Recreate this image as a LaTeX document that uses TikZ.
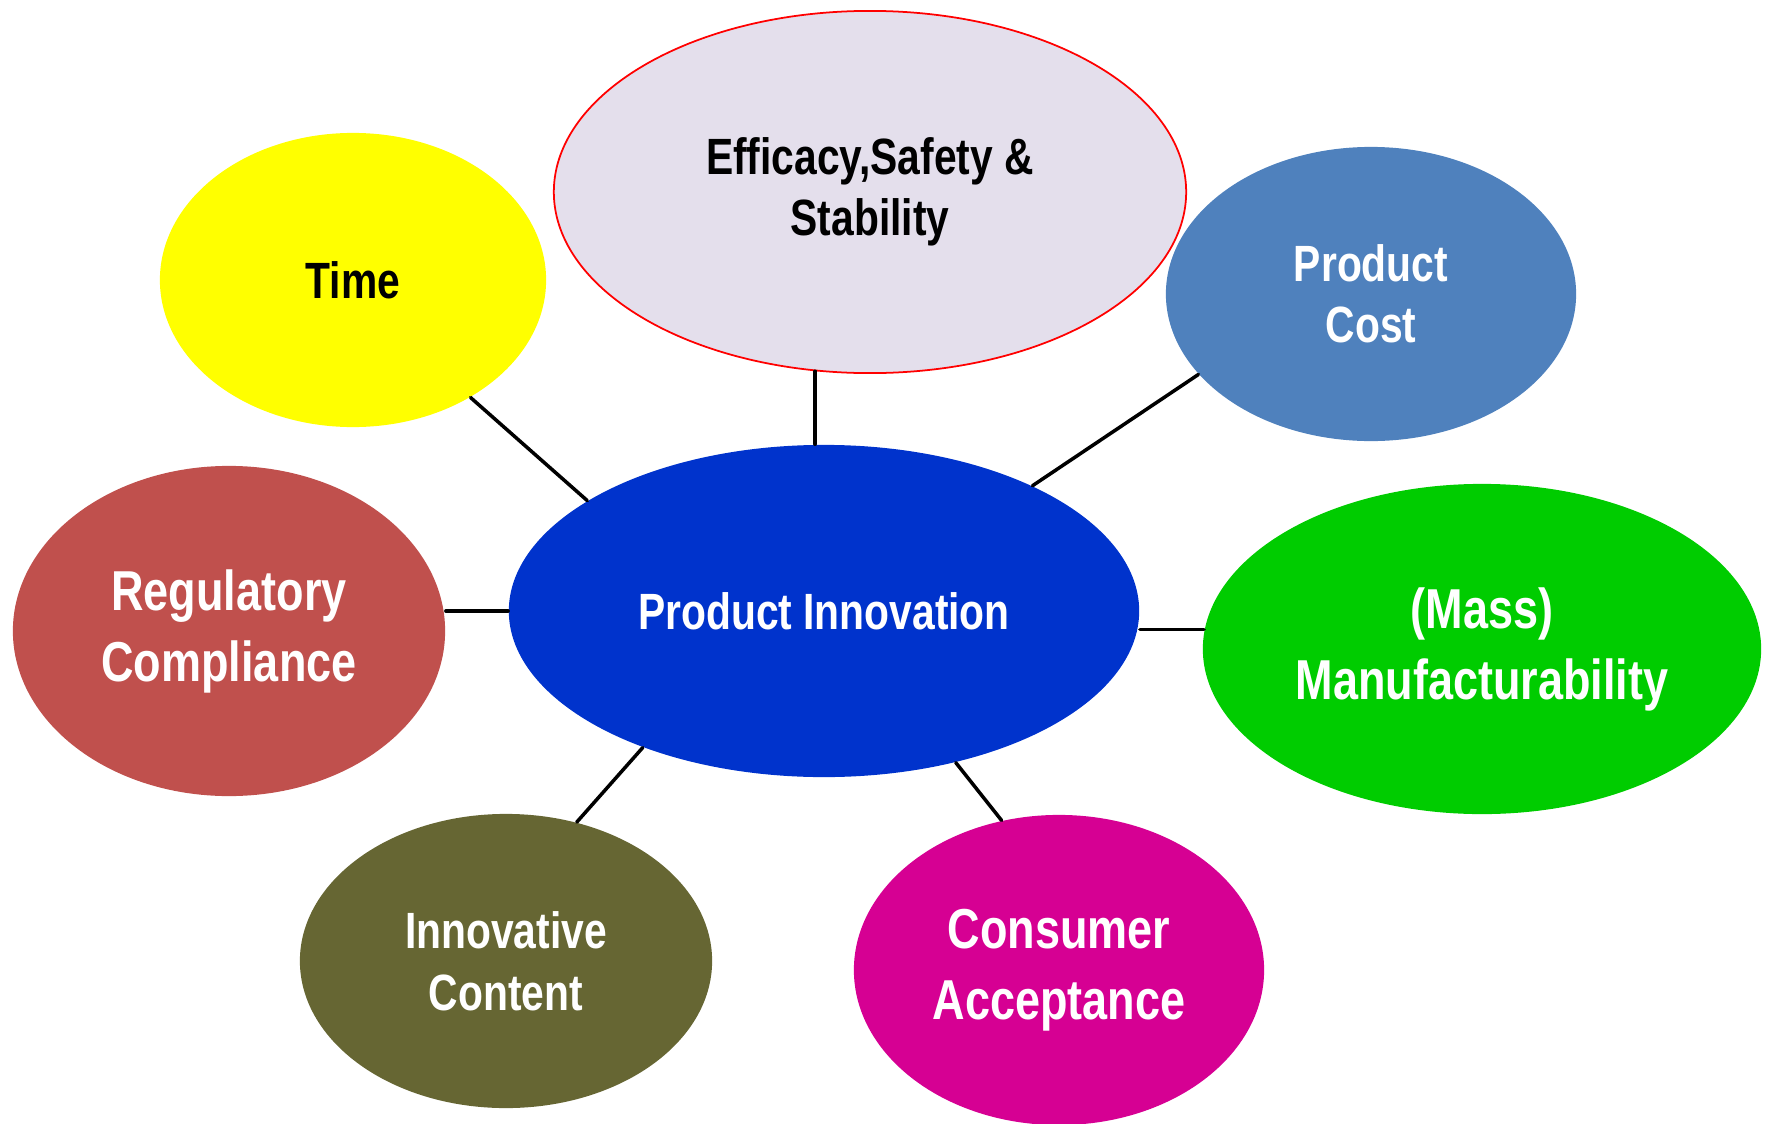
\documentclass[tikz,border=0pt]{standalone}
\usepackage{fontspec}
\newfontfamily\narrowsans[FakeStretch=0.80]{Liberation Sans}
\usetikzlibrary{shapes.geometric}

\definecolor{innoblue}{RGB}{0,51,204}
\definecolor{efflilac}{RGB}{228,223,236}
\definecolor{timeyellow}{RGB}{255,255,0}
\definecolor{costblue}{RGB}{79,129,189}
\definecolor{regred}{RGB}{192,80,77}
\definecolor{massgreen}{RGB}{0,204,0}
\definecolor{contentolive}{RGB}{102,102,51}
\definecolor{consmagenta}{RGB}{214,0,147}

\begin{document}
\begin{tikzpicture}[x=0.01cm,y=-0.01cm,line cap=round,line join=round,
  bubble/.style={ellipse,inner sep=0pt,align=center,text=white,
    font=\narrowsans\bfseries\fontsize{14.5}{17.5}\selectfont},
  bigtext/.style={font=\narrowsans\bfseries\fontsize{16}{20.2}\selectfont},
  link/.style={line width=1.pt,color=black}]
\useasboundingbox (0,0) rectangle (1772,1124);
% centre
\node[bubble,fill=innoblue,minimum width=6.30cm,minimum height=3.32cm] (main) at (824,611) {Product Innovation};
% factors round it
\node[bubble,fill=efflilac,draw=red,line width=0.5pt,text=black,minimum width=6.32cm,minimum height=3.62cm] (eff) at (870,192) {Efficacy,Safety \&\\Stability};
\node[bubble,fill=timeyellow,text=black,minimum width=3.86cm,minimum height=2.94cm] (time) at (353,280) {Time};
\node[bubble,fill=costblue,minimum width=4.10cm,minimum height=2.94cm] (cost) at (1371,294) {Product\\Cost};
\node[bubble,bigtext,fill=regred,minimum width=4.32cm,minimum height=3.30cm] (reg) at (229,631) {Regulatory\\Compliance};
\node[bubble,bigtext,fill=massgreen,minimum width=5.58cm,minimum height=3.30cm] (mass) at (1482,649) {(Mass)\\Manufacturability};
\node[bubble,fill=contentolive,minimum width=4.12cm,minimum height=2.94cm] (innov) at (506,961) {Innovative\\Content};
\node[bubble,bigtext,fill=consmagenta,minimum width=4.10cm,minimum height=3.10cm] (cons) at (1059,970) {Consumer\\Acceptance};
% links
\draw[link] (time.-45) -- (main.155);
\draw[link] (eff.-107) -- (eff.-107 |- main.north);
\draw[link] (cost.-155) -- (main.31);
\draw[link] (reg.east |- main.west) -- (main.west);
\draw[link] (main.east |- mass.176) -- (mass.176);
\draw[link] (innov.63) -- (main.-143);
\draw[link] (cons.111) -- (main.-49);
\end{tikzpicture}
\end{document}
